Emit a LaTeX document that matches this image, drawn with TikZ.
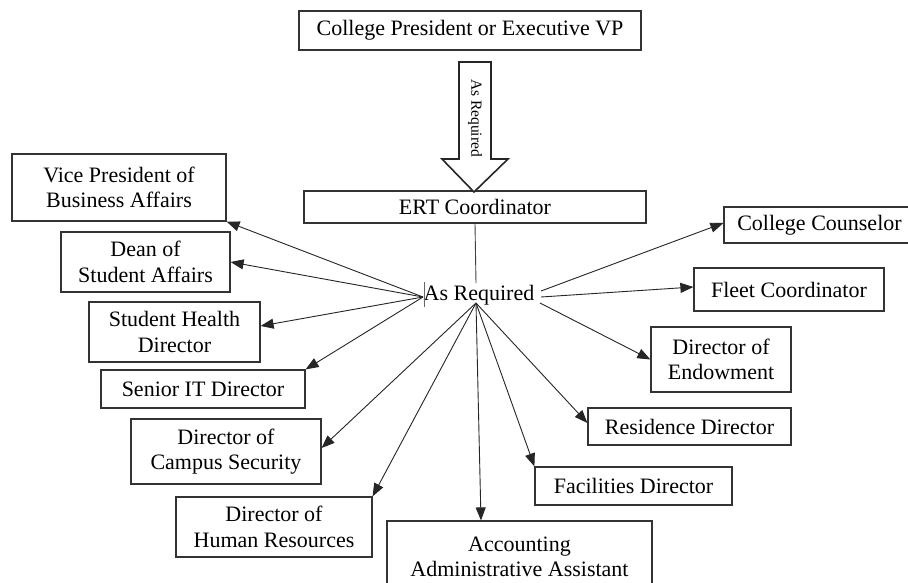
\documentclass[tikz,border=0pt]{standalone}
\usepackage{fontspec}
\setmainfont{Liberation Serif}
\usetikzlibrary{arrows.meta}
\begin{document}
\begin{tikzpicture}[x=1pt,y=-1pt,
  box/.style={draw=black!80,line width=1.2pt,rectangle,align=center,inner sep=0pt,font=\fontsize{22}{25.5}\selectfont},
  conn/.style={draw=black!85,line width=0.9pt,-{Triangle[length=13pt,width=10pt]}},
  plain/.style={draw=black!75,line width=0.9pt},
  ]
\useasboundingbox (0,0) rectangle (908,582);
\fill[white] (0,0) rectangle (908,582);

% boxes
\node[box,minimum width=342pt,minimum height=39pt] (pres) at (470,30.5) {College President or Executive VP};
\node[box,minimum width=342pt,minimum height=32pt] (ert) at (475,207) {ERT Coordinator};
\node[box,minimum width=214pt,minimum height=67pt] (vp) at (119,187.5) {Vice President of\\Business Affairs};
\node[box,minimum width=169pt,minimum height=60pt] (dean) at (145.5,262) {Dean of\\Student Affairs};
\node[box,minimum width=171pt,minimum height=60pt] (health) at (174.5,332) {Student Health\\Director};
\node[box,minimum width=204pt,minimum height=38pt] (it) at (203,389) {Senior IT Director};
\node[box,minimum width=190pt,minimum height=65pt] (sec) at (226,451.5) {Director of\\Campus Security};
\node[box,minimum width=196pt,minimum height=60pt] (hr) at (274,527) {Director of\\Human Resources};
\node[box,minimum width=265pt,minimum height=72pt] (acc) at (519.5,557) {Accounting\\Administrative Assistant};
\node[box,minimum width=197pt,minimum height=38pt] (fac) at (633.5,486) {Facilities Director};
\node[box,minimum width=203pt,minimum height=37pt] (res) at (689.5,426.5) {Residence Director};
\node[box,minimum width=140pt,minimum height=65pt] (endw) at (721,359.5) {Director of\\Endowment};
\node[box,minimum width=190pt,minimum height=43pt] (fleet) at (789,289.5) {Fleet Coordinator};
\node[box,minimum width=191pt,minimum height=36pt] (cc) at (819.5,225) {College Counselor};

% block arrow
\draw[line width=1.6pt,draw=black!85,fill=white] (459,62) -- (491,62) -- (491,159) -- (508,159) -- (474,192) -- (442,159) -- (459,159) -- cycle;
\node[rotate=-90,inner sep=0pt,font=\fontsize{15.5}{18}\selectfont] (asreq) at (475,118) {As Required};

% hub
\node[inner sep=0pt,font=\fontsize{22}{25.5}\selectfont] (req) at (479,295) {As Required};
\coordinate (hubT) at (476,283);
\coordinate (hubL) at (423,297);
\coordinate (hubB) at (476,303);
\coordinate (hubR1) at (541,291);
\coordinate (hubR2) at (541,297);
\coordinate (hubR3) at (540,303);
\coordinate (cur1) at (424,282);
\coordinate (cur2) at (424,307);

\draw[plain] (ert.south) -- (hubT);
\draw[draw=black!60,line width=0.8pt] (cur1) -- (cur2);

% left
\draw[conn] (hubL) -- (vp.south east);
\draw[conn] (hubL) -- (dean.east);
\draw[conn] (hubL) -- ([yshift=6pt]health.east);
\draw[conn] (hubL) -- (it.north east);
% bottom
\draw[conn] (hubB) -- ([yshift=3.5pt]sec.east);
\draw[conn] (hubB) -- (hr.north east);
\draw[conn] (hubB) -- ([xshift=-38.5pt]acc.north);
\draw[conn] (hubB) -- (fac.north west);
\draw[conn] (hubB) -- ([yshift=3.5pt]res.west);
% right
\draw[conn] (hubR3) -- (endw.west);
\draw[conn] (hubR2) -- ([yshift=2.5pt]fleet.west);
\draw[conn] (hubR1) -- ([yshift=2pt]cc.west);
\end{tikzpicture}
\end{document}
